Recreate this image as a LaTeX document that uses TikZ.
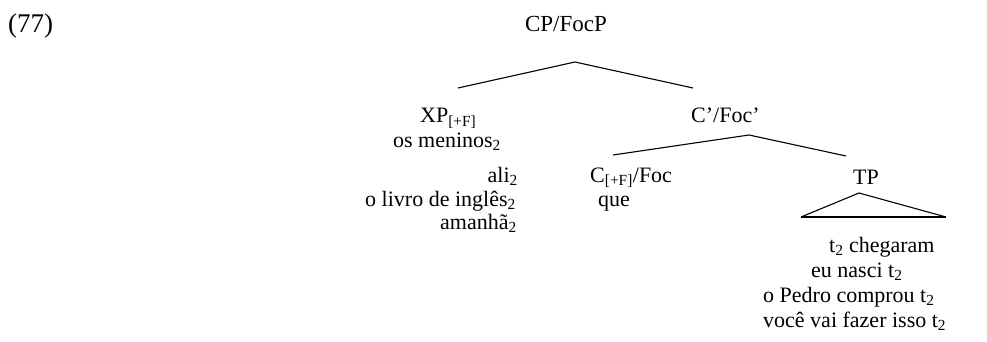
\documentclass[tikz,border=0pt]{standalone}
\usepackage{fontspec}
\setmainfont{Liberation Serif}
\begin{document}
\begin{tikzpicture}[x=1pt,y=-1pt,
  lbl/.style={inner sep=0pt,anchor=base west,font=\fontsize{22}{26}\selectfont},
  branch/.style={line width=1.1pt,black}]
\useasboundingbox (0,0) rectangle (987,342);
\node[lbl,font=\fontsize{27}{30}\selectfont] (ex) at (8,33) {(77)};
\node[lbl,anchor=base,font=\fontsize{23}{27}\selectfont] (cp) at (566,32) {CP/FocP};
\coordinate (cptop) at (575,62);
\coordinate (xpl) at (458,88);
\coordinate (cbarr) at (693,88);
\draw[branch] (xpl) -- (cptop) -- (cbarr);
\node[lbl] (xp) at (420,123) {XP\textsubscript{[+F]}};
\node[lbl] (cbar) at (691,123) {C’/Foc’};
\coordinate (cbartop) at (749,135);
\coordinate (cl) at (613,155);
\coordinate (tpr) at (846,156);
\draw[branch] (cl) -- (cbartop) -- (tpr);
\node[lbl,anchor=base] (m1) at (447,147) {os meninos\textsubscript{2}};
\node[lbl,anchor=base east] (m2) at (518,182) {ali\textsubscript{2}};
\node[lbl,anchor=base east] (m3) at (516,206) {o livro de inglês\textsubscript{2}};
\node[lbl,anchor=base east] (m4) at (517,229) {amanhã\textsubscript{2}};
\node[lbl] (c) at (590,182) {C\textsubscript{[+F]}/Foc};
\node[lbl] (que) at (598,206) {que};
\node[lbl,anchor=base] (tp) at (866,184) {TP};
\coordinate (tri1) at (859,193);
\coordinate (tri2) at (801,217);
\coordinate (tri3) at (946,217);
\draw[branch,line join=miter] (tri2) -- (tri1) -- (tri3);
\draw[line width=1.8pt] (tri2) -- (tri3);
\node[lbl] (s1) at (829,252) {t\textsubscript{2} chegaram};
\node[lbl] (s2) at (811,277) {eu nasci t\textsubscript{2}};
\node[lbl] (s3) at (763,302) {o Pedro comprou t\textsubscript{2}};
\node[lbl] (s4) at (763,327) {você vai fazer isso t\textsubscript{2}};
\end{tikzpicture}
\end{document}
